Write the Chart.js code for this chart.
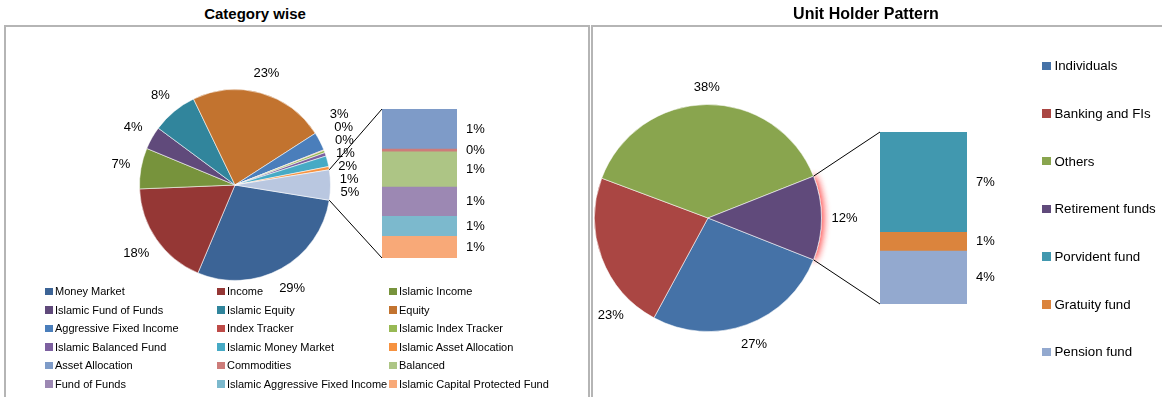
<!DOCTYPE html>
<html>
<head>
<meta charset="utf-8">
<title>Category wise / Unit Holder Pattern</title>
<script src="https://cdn.jsdelivr.net/npm/chart.js@4.4.1/dist/chart.umd.min.js"></script>
<style>
  body { margin: 0; background: #fff; font-family: "Liberation Sans", Arial, sans-serif; color: #000; }
  #page { position: relative; width: 1162px; height: 397px; overflow: hidden; }
  .panel { position: absolute; top: 0; height: 397px; }
  .title { position: absolute; top: 5px; left: 0; font-weight: bold; text-align: center; line-height: 18px; }
  .frame { position: absolute; top: 25px; height: 400px; border: 2px solid #b5b5b5; }
  .panel canvas { position: absolute; left: 0; top: 0; }
  .legend { position: absolute; display: grid; }
  .legend .item { display: flex; align-items: center; white-space: nowrap; }
  .legend .sw { flex: none; }
  #catLegend { left: 45px; top: 282px; font-size: 11px; grid-template-columns: 172px 172px auto; grid-auto-rows: 18.5px; }
  #catLegend .sw { width: 7.5px; height: 7.5px; margin-right: 2.5px; }
  #holderLegend { left: 452px; top: 42px; font-size: 13.3px; grid-template-columns: auto; grid-auto-rows: 47.7px; }
  #holderLegend .sw { width: 8.5px; height: 8.5px; margin-right: 4px; }
</style>
</head>
<body>
<div id="page">
  <div class="panel" style="left:0; width:590px;">
    <div class="title" style="width:510px; font-size:15px;">Category wise</div>
    <div class="frame" style="left:4px; width:582px;"></div>
    <canvas id="catPie" width="590" height="397"></canvas>
    <canvas id="catBar" width="590" height="397"></canvas>
    <div class="legend" id="catLegend"></div>
  </div>
  <div class="panel" style="left:590px; width:572px;">
    <div class="title" style="width:552px; font-size:16px;">Unit Holder Pattern</div>
    <div class="frame" style="left:1px; width:600px;"></div>
    <canvas id="holderPie" width="572" height="397"></canvas>
    <canvas id="holderBar" width="572" height="397"></canvas>
    <div class="legend" id="holderLegend"></div>
  </div>
</div>
<script>
// Category wise: main pie slices
const categoryLabels = ["Money Market", "Income", "Islamic Income", "Islamic Fund of Funds", "Islamic Equity",
  "Equity", "Aggressive Fixed Income", "Index Tracker", "Islamic Index Tracker", "Islamic Balanced Fund",
  "Islamic Money Market", "Islamic Asset Allocation"];
const categoryValues = [28.8, 18.0, 6.9, 3.9, 7.7, 23.05, 3.1, 0.1, 0.4, 0.6, 1.8, 0.55];
const categoryColors = ["#3c6496", "#953735", "#77933c", "#604a7b", "#31859c", "#c2732f",
  "#4a7ebb", "#be4b48", "#98b954", "#7d60a0", "#46aac5", "#f69240"];

// Category wise: slices split out into the bar
const categorySplitLabels = ["Asset Allocation", "Commodities", "Balanced", "Fund of Funds",
  "Islamic Aggressive Fixed Income", "Islamic Capital Protected Fund"];
const categorySplitValues = [1.37, 0.10, 1.20, 1.00, 0.69, 0.74];
const categorySplitColors = ["#7e9bc8", "#cd7c7a", "#adc585", "#9c88b3", "#7cb9cd", "#f8a978"];
const categoryOtherColor = "#b9c7e0";

// Unit Holder Pattern
const holderLabels = ["Individuals", "Banking and FIs", "Others"];
const holderValues = [26.9, 22.8, 38.3];
const holderColors = ["#4572a7", "#aa4643", "#89a54e"];
const holderOtherLabel = "Retirement funds";
const holderOtherColor = "#604a7b";
const holderSplitLabels = ["Porvident fund", "Gratuity fund", "Pension fund"];
const holderSplitValues = [7.0, 1.3, 3.7];
const holderSplitColors = ["#4198af", "#db843d", "#93a9cf"];

Chart.defaults.font.family = "'Liberation Sans', Arial, sans-serif";
Chart.defaults.devicePixelRatio = 1;

const LABEL_FONT = "13px 'Liberation Sans', Arial, sans-serif";
const sum = arr => arr.reduce((a, b) => a + b, 0);

// stack overlapping labels on each side of the pie, centred on where they wanted to be
function spreadLabels(items, cx, gap) {
  [items.filter(it => it.x >= cx), items.filter(it => it.x < cx)].forEach(side => {
    side.sort((a, b) => a.y - b.y);
    const clusters = [];
    side.forEach(it => {
      clusters.push({ items: [it], top: it.y });
      while (clusters.length > 1) {
        const cur = clusters[clusters.length - 1], prev = clusters[clusters.length - 2];
        if (prev.top + prev.items.length * gap <= cur.top) break;
        const merged = prev.items.concat(cur.items);
        const mean = sum(merged.map(m => m.y)) / merged.length;
        clusters.splice(-2, 2, { items: merged, top: mean - (merged.length - 1) * gap / 2 });
      }
    });
    clusters.forEach(c => c.items.forEach((it, k) => { it.ny = c.top + k * gap; }));
  });
  items.forEach(it => { it.y = it.ny; });
}

// percentage labels just outside each slice
const pieLabels = {
  id: "pieLabels",
  defaults: { minX: -Infinity },
  afterDatasetsDraw(chart, args, opts) {
    const ctx = chart.ctx;
    const data = chart.data.datasets[0].data;
    const total = sum(data);
    ctx.save();
    ctx.font = LABEL_FONT;
    ctx.fillStyle = "#000";
    ctx.textAlign = "center";
    ctx.textBaseline = "middle";
    let cx = 0;
    const items = chart.getDatasetMeta(0).data.map((arc, i) => {
      const p = arc.getProps(["x", "y", "startAngle", "endAngle", "outerRadius"], true);
      cx = p.x;
      const text = Math.round(data[i] / total * 100) + "%";
      const hw = ctx.measureText(text).width / 2, hh = 7;
      const place = ang => {
        const ux = Math.cos(ang), uy = Math.sin(ang);
        const d = p.outerRadius + 10 + hw * Math.abs(ux) + hh * Math.abs(uy);
        return { x: p.x + ux * d, y: p.y + uy * d };
      };
      let ang = (p.startAngle + p.endAngle) / 2;
      let pos = place(ang);
      // slide along the rim until the label fits inside the frame
      for (let g = 0; g < 180 && pos.x - hw < opts.minX; g++) {
        ang += (Math.sin(ang) > 0 ? -1 : 1) * Math.PI / 360;
        pos = place(ang);
      }
      return { text, x: pos.x, y: pos.y, hw };
    });
    spreadLabels(items, cx, 13);
    items.forEach(it => ctx.fillText(it.text, it.x, it.y));
    ctx.restore();
  }
};

// soft red glow just outside the rim of the split-out slice
const otherGlow = {
  id: "otherGlow",
  afterDatasetsDraw(chart) {
    const arcs = chart.getDatasetMeta(0).data;
    const arc = arcs[arcs.length - 1];
    const p = arc.getProps(["x", "y", "outerRadius"], true);
    const ctx = chart.ctx;
    ctx.save();
    ctx.beginPath();
    ctx.rect(0, 0, chart.width, chart.height);
    ctx.arc(p.x, p.y, p.outerRadius + 0.5, 0, Math.PI * 2, true);
    ctx.clip("evenodd");
    ctx.shadowColor = "rgba(255,30,30,0.85)";
    ctx.shadowBlur = 7;
    ctx.shadowOffsetX = 2;
    arc.draw(ctx);
    ctx.restore();
  }
};

function buildLegend(el, labels, colors) {
  el.innerHTML = labels.map((l, i) =>
    `<div class="item"><span class="sw" style="background:${colors[i]}"></span>${l}</div>`).join("");
}

function pieOfBar(cfg) {
  const otherValue = sum(cfg.splitValues);
  const total = sum(cfg.values) + otherValue;
  const W = cfg.pieCanvas.width, H = cfg.pieCanvas.height;
  const { cx, cy, r } = cfg.pie;

  const pie = new Chart(cfg.pieCanvas, {
    type: "pie",
    data: {
      labels: [...cfg.labels, cfg.otherLabel],
      datasets: [{
        data: [...cfg.values, otherValue],
        backgroundColor: [...cfg.colors, cfg.otherColor],
        borderColor: "rgba(255,255,255,0.55)",
        borderWidth: 1
      }]
    },
    options: {
      responsive: false,
      animation: false,
      events: [],
      // the split-out slice sits centred on 3 o'clock
      rotation: 90 + otherValue / total * 180,
      layout: { padding: { left: cx - r, top: cy - r, right: W - cx - r, bottom: H - cy - r } },
      plugins: {
        legend: { display: false },
        tooltip: { enabled: false },
        pieLabels: { minX: cfg.labelMinX }
      }
    },
    plugins: cfg.glow ? [otherGlow, pieLabels] : [pieLabels]
  });

  const barLabels = {
    id: "barLabels",
    afterDatasetsDraw(chart) {
      const ctx = chart.ctx;
      ctx.save();
      ctx.font = LABEL_FONT;
      ctx.fillStyle = "#000";
      ctx.textAlign = "left";
      ctx.textBaseline = "middle";
      chart.data.datasets.forEach((ds, i) => {
        const p = chart.getDatasetMeta(i).data[0].getProps(["x", "y", "base", "width"], true);
        ctx.fillText(Math.round(ds.data[0] / total * 100) + "%", p.x + p.width / 2 + 9, (p.y + p.base) / 2);
      });
      ctx.restore();
    }
  };

  // leader lines from the split slice to the bar
  const connectors = {
    id: "connectors",
    afterDraw(chart) {
      const arcs = pie.getDatasetMeta(0).data;
      const a = arcs[arcs.length - 1].getProps(["x", "y", "startAngle", "endAngle", "outerRadius"], true);
      const bars = chart.data.datasets.map((d, i) => chart.getDatasetMeta(i).data[0].getProps(["x", "y", "base", "width"], true));
      const left = bars[0].x - bars[0].width / 2;
      const top = Math.min(...bars.map(b => Math.min(b.y, b.base)));
      const bottom = Math.max(...bars.map(b => Math.max(b.y, b.base)));
      const ctx = chart.ctx;
      ctx.save();
      ctx.strokeStyle = "#000";
      ctx.lineWidth = 1;
      ctx.beginPath();
      ctx.moveTo(a.x + Math.cos(a.startAngle) * a.outerRadius, a.y + Math.sin(a.startAngle) * a.outerRadius);
      ctx.lineTo(left, top);
      ctx.moveTo(a.x + Math.cos(a.endAngle) * a.outerRadius, a.y + Math.sin(a.endAngle) * a.outerRadius);
      ctx.lineTo(left, bottom);
      ctx.stroke();
      ctx.restore();
    }
  };

  const b = cfg.bar;
  new Chart(cfg.barCanvas, {
    type: "bar",
    data: {
      labels: [""],
      // first split item ends up on top of the stack
      datasets: cfg.splitLabels.map((l, i) => ({
        label: l,
        data: [cfg.splitValues[i]],
        backgroundColor: cfg.splitColors[i],
        barPercentage: 1,
        categoryPercentage: 1
      })).reverse()
    },
    options: {
      responsive: false,
      animation: false,
      events: [],
      layout: { padding: { left: b.left, top: b.top, right: W - b.right, bottom: H - b.bottom } },
      scales: {
        x: { display: false, stacked: true },
        y: { display: false, stacked: true, min: 0, max: otherValue }
      },
      plugins: { legend: { display: false }, tooltip: { enabled: false } }
    },
    plugins: [barLabels, connectors]
  });
}

pieOfBar({
  pieCanvas: document.getElementById("catPie"),
  barCanvas: document.getElementById("catBar"),
  labels: categoryLabels, values: categoryValues, colors: categoryColors,
  otherLabel: "Other", otherColor: categoryOtherColor,
  splitLabels: categorySplitLabels, splitValues: categorySplitValues, splitColors: categorySplitColors,
  pie: { cx: 235, cy: 185, r: 96 },
  bar: { left: 382, right: 457, top: 109, bottom: 258 },
  labelMinX: 10,
  glow: false
});

pieOfBar({
  pieCanvas: document.getElementById("holderPie"),
  barCanvas: document.getElementById("holderBar"),
  labels: holderLabels, values: holderValues, colors: holderColors,
  otherLabel: holderOtherLabel, otherColor: holderOtherColor,
  splitLabels: holderSplitLabels, splitValues: holderSplitValues, splitColors: holderSplitColors,
  pie: { cx: 118, cy: 218, r: 114 },
  bar: { left: 290, right: 377, top: 132, bottom: 304 },
  labelMinX: 7,
  glow: true
});

buildLegend(document.getElementById("catLegend"),
  [...categoryLabels, ...categorySplitLabels], [...categoryColors, ...categorySplitColors]);
buildLegend(document.getElementById("holderLegend"),
  [...holderLabels, holderOtherLabel, ...holderSplitLabels], [...holderColors, holderOtherColor, ...holderSplitColors]);
</script>
</body>
</html>
